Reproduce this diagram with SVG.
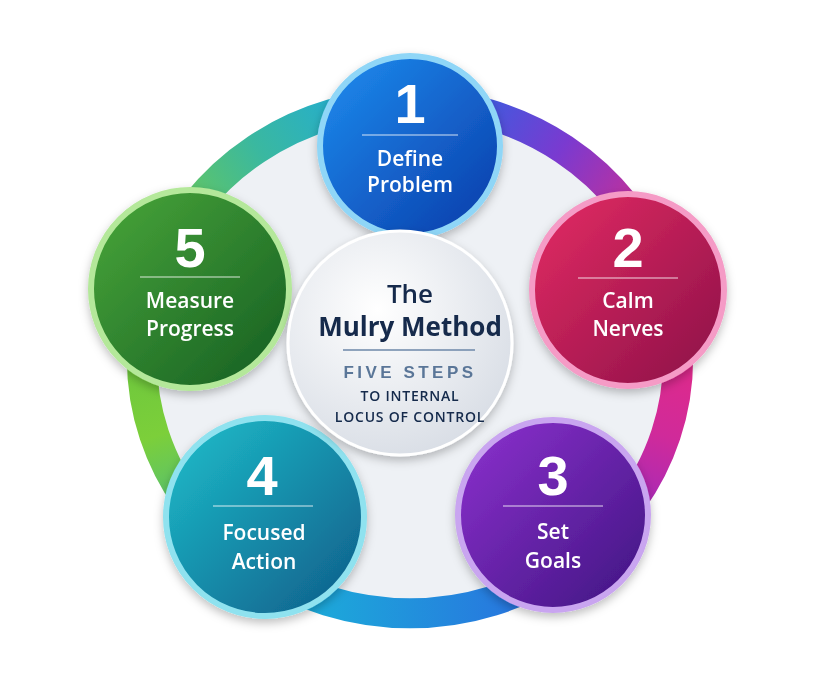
<svg xmlns="http://www.w3.org/2000/svg" width="820" height="680" viewBox="0 0 820 680">
<defs>
<linearGradient id="s12" gradientUnits="userSpaceOnUse" x1="410" y1="103" x2="662" y2="271"><stop offset="0" stop-color="#1a6fe8"/><stop offset="0.5" stop-color="#7a3ad0"/><stop offset="1" stop-color="#ee2a7a"/></linearGradient>
<linearGradient id="s23" gradientUnits="userSpaceOnUse" x1="662" y1="271" x2="564" y2="567"><stop offset="0" stop-color="#ee2a7a"/><stop offset="0.5" stop-color="#d02a9a"/><stop offset="1" stop-color="#7a2ad8"/></linearGradient>
<linearGradient id="s34" gradientUnits="userSpaceOnUse" x1="564" y1="567" x2="256" y2="567"><stop offset="0" stop-color="#2a6ae0"/><stop offset="1" stop-color="#19b8d8"/></linearGradient>
<linearGradient id="s45" gradientUnits="userSpaceOnUse" x1="256" y1="567" x2="158" y2="271"><stop offset="0" stop-color="#2ab0b0"/><stop offset="0.5" stop-color="#7ccf3a"/><stop offset="1" stop-color="#60c040"/></linearGradient>
<linearGradient id="s51" gradientUnits="userSpaceOnUse" x1="158" y1="271" x2="410" y2="103"><stop offset="0" stop-color="#7ccf3a"/><stop offset="0.5" stop-color="#3ab8a0"/><stop offset="1" stop-color="#18a8e8"/></linearGradient>
<linearGradient id="g1" x1="0" y1="0" x2="1" y2="1"><stop offset="0" stop-color="#1e8ef0"/><stop offset="1" stop-color="#0a3aa8"/></linearGradient>
<linearGradient id="g2" x1="0" y1="0" x2="1" y2="1"><stop offset="0" stop-color="#e52c63"/><stop offset="1" stop-color="#8a1048"/></linearGradient>
<linearGradient id="g3" x1="0" y1="0" x2="1" y2="1"><stop offset="0" stop-color="#8e32d0"/><stop offset="1" stop-color="#3e1480"/></linearGradient>
<linearGradient id="g4" x1="0" y1="0" x2="1" y2="1"><stop offset="0" stop-color="#1ec0cc"/><stop offset="1" stop-color="#0e5a88"/></linearGradient>
<linearGradient id="g5" x1="0" y1="0" x2="1" y2="1"><stop offset="0" stop-color="#4aa83a"/><stop offset="1" stop-color="#145c22"/></linearGradient>
<radialGradient id="gc" cx="0.4" cy="0.35" r="0.7"><stop offset="0" stop-color="#ffffff"/><stop offset="1" stop-color="#d8dde5"/></radialGradient>
<filter id="sh" x="-20%" y="-20%" width="140%" height="140%"><feDropShadow dx="0" dy="4" stdDeviation="5" flood-color="#000" flood-opacity="0.25"/></filter>
</defs>
<style>
.num{font-family:"Liberation Sans",Arial,sans-serif;font-weight:bold;font-size:56px;fill:#fff;text-anchor:middle}
.lab{font-family:"Open Sans","Liberation Sans",sans-serif;font-weight:600;font-size:21px;fill:#fff;text-anchor:middle}
.sep{stroke:#ffffff;stroke-opacity:0.55;stroke-width:1.5}
.node{filter:url(#sh)}
.seg{fill:none;stroke-width:30}
</style>
<rect width="820" height="680" fill="#fff"/>
<ellipse cx="410" cy="358" rx="268" ry="255" fill="#eef1f5"/>
<g id="connectors">
<path class="seg" stroke="url(#s12)" d="M410 103 A268 255 0 0 1 662 271"/>
<path class="seg" stroke="url(#s23)" d="M662 271 A268 255 0 0 1 564 567"/>
<path class="seg" stroke="url(#s34)" d="M564 567 A268 255 0 0 1 256 567"/>
<path class="seg" stroke="url(#s45)" d="M256 567 A268 255 0 0 1 158 271"/>
<path class="seg" stroke="url(#s51)" d="M158 271 A268 255 0 0 1 410 103"/>
</g>
<g id="n1" class="node"><circle cx="410" cy="146" r="90" fill="url(#g1)" stroke="#8fd6f7" stroke-width="6"/>
<text class="num" x="410" y="123">1</text><line class="sep" x1="362" y1="135" x2="458" y2="135"/>
<text class="lab" x="410" y="166">Define</text><text class="lab" x="410" y="192">Problem</text></g>
<g id="n2" class="node"><circle cx="628" cy="290" r="96" fill="url(#g2)" stroke="#f59bc6" stroke-width="6"/>
<text class="num" x="628" y="267">2</text><line class="sep" x1="578" y1="278" x2="678" y2="278"/>
<text class="lab" x="628" y="308">Calm</text><text class="lab" x="628" y="336">Nerves</text></g>
<g id="n3" class="node"><circle cx="553" cy="515" r="95" fill="url(#g3)" stroke="#c9a5f0" stroke-width="6"/>
<text class="num" x="553" y="495">3</text><line class="sep" x1="503" y1="506" x2="603" y2="506"/>
<text class="lab" x="553" y="539">Set</text><text class="lab" x="553" y="568">Goals</text></g>
<g id="n4" class="node"><circle cx="265" cy="517" r="99" fill="url(#g4)" stroke="#8fe2ef" stroke-width="6"/>
<text class="num" x="262" y="495">4</text><line class="sep" x1="213" y1="506" x2="313" y2="506"/>
<text class="lab" x="264" y="540">Focused</text><text class="lab" x="264" y="569">Action</text></g>
<g id="n5" class="node"><circle cx="190" cy="289" r="99" fill="url(#g5)" stroke="#b4e89a" stroke-width="6"/>
<text class="num" x="190" y="267">5</text><line class="sep" x1="140" y1="277" x2="240" y2="277"/>
<text class="lab" x="190" y="308">Measure</text><text class="lab" x="190" y="336">Progress</text></g>
<g id="center" class="node"><circle cx="400" cy="343" r="112" fill="url(#gc)" stroke="#ffffff" stroke-width="3"/>
<text x="410" y="303" text-anchor="middle" font-family="'Open Sans','Liberation Sans',sans-serif" font-weight="600" font-size="26" fill="#13294b">The</text>
<text x="410" y="336" text-anchor="middle" font-family="'Open Sans','Liberation Sans',sans-serif" font-weight="bold" font-size="26" fill="#13294b">Mulry Method</text>
<line x1="343" y1="350" x2="475" y2="350" stroke="#6d87a8" stroke-width="1.5"/>
<text x="410" y="378" text-anchor="middle" font-family="'Liberation Sans',sans-serif" font-weight="bold" font-size="17" letter-spacing="3.5" fill="#5a7698">FIVE STEPS</text>
<text x="410" y="401" text-anchor="middle" font-family="'Open Sans','Liberation Sans',sans-serif" font-weight="600" font-size="14" letter-spacing="0.8" fill="#13294b">TO INTERNAL</text>
<text x="410" y="422" text-anchor="middle" font-family="'Open Sans','Liberation Sans',sans-serif" font-weight="600" font-size="14" letter-spacing="0.8" fill="#13294b">LOCUS OF CONTROL</text></g>
</svg>
